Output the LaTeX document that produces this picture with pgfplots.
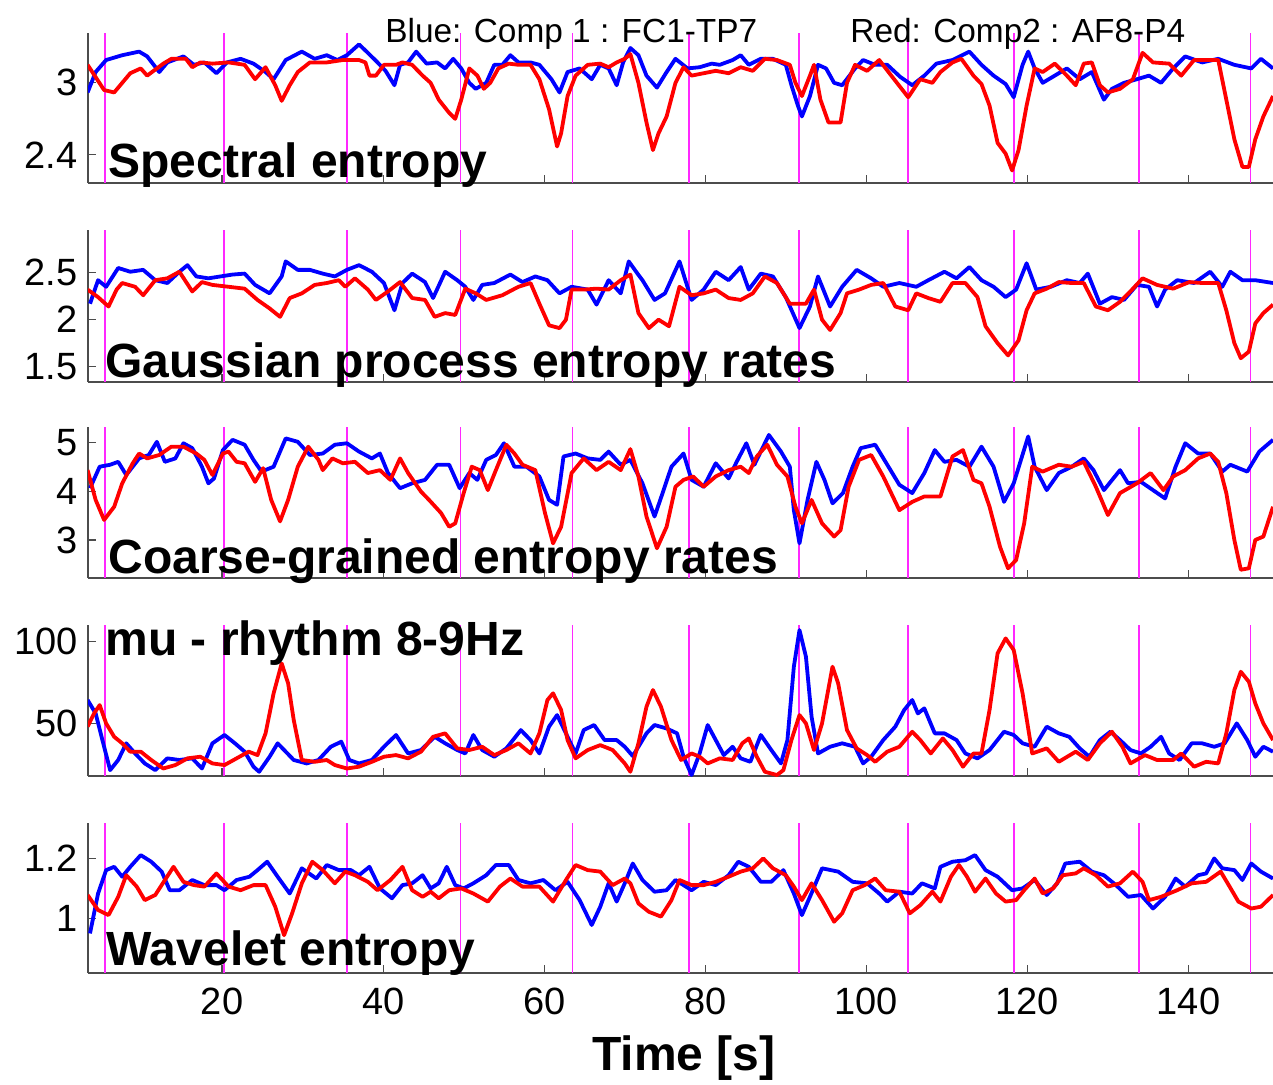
\documentclass[border=0pt]{standalone}
\usepackage{fontspec}
\setmainfont{Liberation Sans}
\usepackage{pgfplots}
\pgfplotsset{compat=1.18}
\definecolor{cblue}{RGB}{0,0,255}
\definecolor{cred}{RGB}{255,0,0}
\definecolor{cmag}{RGB}{255,40,255}
\pgfplotsset{panel/.style={
  scale only axis, width=592.5pt, xmin=3.35, xmax=150.5,
  axis x line*=bottom, axis y line*=left,
  axis line style={black!70, line width=0.8pt},
  xtick={20,40,...,140}, xticklabels={},
  tick align=inside, major tick length=4pt,
  tick style={black!70, line width=0.6pt},
  extra x ticks={5.5,20.2,35.5,49.6,63.5,78,91.6,105.2,118.3,133.9,147.7},
  extra x tick labels={},
  extra x tick style={grid=major, major tick length=0pt, tick style={draw=none},
     major grid style={draw=cmag, line width=0.85pt, opacity=1}},
  /pgf/number format/assume math mode=true,
  yticklabel style={font=\fontsize{19}{19}\selectfont, inner sep=0pt, xshift=-5pt},
  xticklabel style={font=\fontsize{19}{19}\selectfont, inner sep=0pt, yshift=-7.5pt},
  every axis plot/.append style={line width=1.9pt, line join=round, no marks},
}}
\begin{document}
\begin{tikzpicture}
\path[use as bounding box] (0,0) rectangle (636.5pt,542pt);
% Panel 1
\begin{axis}[panel, at={(44pt,450.5pt)}, anchor=south west, height=75pt,
  ymin=2.166, ymax=3.415, ytick={2.4,3}, yticklabels={2.4,3}]
\addplot[cblue] coordinates {(3.3,2.92)(4.3,3.09)(5.6,3.19)(7.6,3.23)(9.7,3.26)(10.7,3.22)(12.2,3.09)(13.2,3.17)(15.2,3.22)(16.5,3.15)(17.8,3.17)(19.3,3.08)(20.6,3.17)(22.3,3.2)(23.9,3.16)(25.4,3.09)(26.4,3.03)(27.9,3.19)(29.9,3.26)(31.5,3.2)(33,3.23)(34.3,3.19)(35.5,3.23)(37,3.32)(38.1,3.25)(39.3,3.17)(40.3,3.1)(41.4,2.98)(42.1,3.15)(43.1,3.17)(44.1,3.26)(45.4,3.16)(46.7,3.17)(47.7,3.12)(48.7,3.2)(49.7,3.12)(50.7,3.0)(51.5,2.95)(52.8,3.0)(53.8,3.15)(54.8,3.15)(55.8,3.23)(56.8,3.17)(58.3,3.17)(59.4,3.15)(60.9,3.03)(61.9,2.92)(62.9,3.09)(64.4,3.12)(65.9,3.03)(66.96,3.15)(68,3.12)(69,2.98)(69.8,3.17)(70.7,3.29)(71.7,3.23)(72.7,3.06)(74,2.96)(75.2,3.09)(76.3,3.2)(77.8,3.12)(79.3,3.13)(80.8,3.16)(81.8,3.15)(83.4,3.19)(84.4,3.23)(85.4,3.15)(86.9,3.2)(88.4,3.2)(90,3.15)(90.7,2.98)(91.5,2.81)(92,2.72)(93,2.89)(94,3.15)(95,3.12)(96,3.0)(97,2.98)(98.6,3.12)(99.6,3.19)(101.1,3.15)(102.6,3.15)(104.2,3.05)(105.7,2.98)(107.2,3.06)(108.7,3.16)(110.7,3.19)(112.8,3.26)(114.3,3.15)(115.8,3.06)(117.3,2.99)(118.3,2.88)(119.4,3.15)(120.1,3.26)(120.9,3.12)(121.9,3.0)(123.4,3.06)(124.9,3.12)(126.5,3.03)(128,3.09)(129.5,2.86)(130.5,2.95)(132,3.0)(133.6,3.03)(135.1,3.06)(136.6,3.0)(138.1,3.12)(139.6,3.22)(141.7,3.17)(143.7,3.2)(145.7,3.15)(147.8,3.12)(149,3.2)(150.5,3.12)};
\addplot[cred] coordinates {(3.3,3.15)(5.35,2.94)(6.6,2.92)(8.6,3.08)(9.9,3.12)(10.7,3.06)(12.7,3.16)(13.7,3.2)(15.5,3.2)(16.3,3.13)(17.3,3.17)(18.8,3.16)(20.8,3.17)(22.8,3.15)(24.1,3.03)(25.4,3.13)(26.6,2.98)(27.4,2.85)(28.4,2.98)(29.4,3.09)(30.9,3.17)(33,3.17)(35,3.19)(37,3.19)(37.8,3.17)(38.3,3.06)(39.1,3.06)(40.1,3.15)(41.6,3.15)(42.4,3.17)(43.6,3.15)(44.9,3.06)(45.9,3.0)(46.9,2.86)(48.2,2.75)(48.95,2.70)(49.7,2.86)(50.7,3.12)(51.7,3.06)(52.5,2.95)(53.3,3.0)(54.3,3.12)(55.6,3.16)(56.8,3.15)(58.3,3.15)(59.4,3.03)(60.6,2.78)(61.6,2.47)(62.1,2.58)(62.9,2.89)(63.9,3.06)(65.4,3.15)(66.96,3.16)(68,3.13)(69,3.17)(70,3.2)(70.7,3.24)(71.7,3.0)(72.7,2.67)(73.5,2.44)(74.2,2.58)(75.2,2.72)(76.3,3.0)(77.3,3.13)(78.3,3.06)(79.8,3.08)(81.3,3.1)(82.9,3.08)(84.4,3.13)(85.9,3.1)(87.4,3.2)(88.9,3.19)(90.5,3.15)(91.2,3.0)(92,2.89)(93,3.06)(93.5,3.15)(94.3,2.86)(95.3,2.67)(96.8,2.67)(97.6,3.0)(98.6,3.15)(100.1,3.1)(101.6,3.19)(103.1,3.06)(105.2,2.88)(106.7,3.03)(108.2,3.0)(109.2,3.09)(110.7,3.17)(111.8,3.2)(113.3,3.06)(114.3,2.99)(115.3,2.81)(116.3,2.5)(117.3,2.41)(118.1,2.27)(118.9,2.44)(119.9,2.81)(120.9,3.12)(121.9,3.09)(123.4,3.16)(124.9,3.06)(126,2.98)(127,3.16)(128,3.17)(129,2.98)(130,2.92)(131.5,2.95)(133.1,3.03)(134.3,3.25)(135.6,3.17)(137.6,3.16)(139.1,3.06)(140.7,3.19)(143.7,3.19)(144.7,2.86)(145.7,2.53)(146.7,2.3)(147.5,2.3)(148.3,2.53)(149.3,2.72)(150.5,2.89)};
\end{axis}
% Panel 2
\begin{axis}[panel, at={(44pt,351pt)}, anchor=south west, height=76pt,
  ymin=1.337, ymax=2.954, ytick={1.5,2,2.5}, yticklabels={1.5,2,2.5}]
\addplot[cblue] coordinates {(3.6,2.17)(4.6,2.42)(5.6,2.35)(7.1,2.55)(8.6,2.51)(10.2,2.53)(11.7,2.42)(13.2,2.39)(14.7,2.51)(15.7,2.58)(16.8,2.46)(18.3,2.44)(19.8,2.46)(21.3,2.48)(22.8,2.49)(24.1,2.37)(25.9,2.28)(27.4,2.46)(27.9,2.62)(29.4,2.53)(30.9,2.53)(32.5,2.49)(34,2.46)(35.5,2.53)(37,2.58)(38.6,2.51)(40.1,2.39)(41.4,2.1)(42.4,2.39)(43.6,2.49)(45.2,2.4)(46.2,2.23)(47.7,2.51)(49.2,2.42)(50.2,2.35)(51.2,2.21)(52.3,2.37)(53.8,2.39)(55.8,2.48)(57.3,2.4)(58.9,2.46)(60.4,2.42)(61.9,2.28)(63.4,2.35)(65.4,2.32)(66.5,2.16)(68,2.42)(69.5,2.28)(70.5,2.62)(71.5,2.5)(72.2,2.42)(73.7,2.21)(75,2.28)(76.8,2.62)(78.3,2.21)(79.8,2.32)(81.3,2.51)(82.9,2.42)(84.4,2.56)(85.4,2.32)(86.9,2.49)(88.4,2.46)(90,2.24)(91.7,1.91)(93,2.14)(94,2.46)(95.5,2.14)(97,2.35)(98.8,2.53)(100.6,2.44)(102.1,2.35)(104.1,2.39)(106.2,2.35)(107.7,2.42)(109.7,2.51)(111.2,2.44)(112.8,2.56)(114.3,2.42)(115.8,2.35)(117.3,2.24)(118.6,2.32)(119.9,2.6)(121.1,2.32)(122.9,2.35)(124.9,2.42)(126.5,2.39)(127.5,2.49)(129,2.17)(130.5,2.24)(132,2.21)(133.6,2.37)(135.1,2.35)(136.1,2.14)(137.1,2.32)(138.6,2.42)(140.7,2.39)(142.7,2.51)(144.2,2.35)(145.2,2.51)(146.7,2.42)(148.3,2.42)(150.5,2.39)};
\addplot[cred] coordinates {(3.3,2.32)(4.6,2.24)(5.9,2.14)(6.9,2.32)(7.6,2.39)(9.2,2.35)(10.2,2.26)(11.7,2.42)(13.2,2.44)(14.7,2.51)(16.3,2.3)(17.5,2.4)(18.8,2.37)(20.8,2.35)(22.8,2.33)(24.4,2.21)(25.9,2.12)(27.2,2.03)(28.4,2.23)(29.9,2.28)(31.5,2.37)(33,2.39)(34.5,2.42)(35.3,2.35)(36.5,2.44)(38.1,2.32)(39.1,2.21)(40.6,2.3)(42.1,2.4)(43.6,2.23)(45.2,2.21)(46.4,2.03)(47.7,2.07)(48.95,2.05)(50.2,2.33)(51.5,2.28)(52.8,2.21)(54.8,2.26)(56.8,2.35)(58.3,2.39)(59.4,2.17)(60.6,1.94)(61.9,1.91)(62.7,2.0)(63.4,2.32)(64.9,2.32)(66.5,2.33)(68,2.32)(69.5,2.42)(70.7,2.48)(71.7,2.07)(73,1.91)(74.2,2.0)(75.5,1.93)(76.8,2.35)(78.3,2.26)(79.8,2.28)(81.3,2.32)(82.9,2.23)(84.4,2.21)(85.9,2.28)(87.4,2.46)(88.9,2.39)(90.5,2.17)(92.5,2.17)(93.5,2.32)(94.5,2.0)(95.5,1.89)(96.8,2.07)(97.6,2.28)(99.1,2.32)(100.6,2.37)(102.1,2.39)(103.6,2.14)(105.2,2.1)(106.2,2.28)(107.7,2.23)(109.2,2.19)(110.7,2.39)(112.3,2.39)(113.8,2.24)(114.8,1.93)(116.3,1.75)(117.6,1.62)(118.9,1.78)(119.9,2.1)(120.9,2.28)(122.4,2.33)(123.9,2.4)(125.5,2.39)(127,2.39)(128.5,2.14)(130,2.1)(131.5,2.19)(133,2.32)(134.3,2.44)(136.1,2.37)(138.1,2.33)(140.1,2.4)(141.7,2.39)(143.7,2.39)(144.7,2.1)(145.7,1.75)(146.5,1.59)(147.5,1.66)(148.3,1.96)(149.3,2.07)(150.5,2.16)};
\end{axis}
% Panel 3
\begin{axis}[panel, at={(44pt,253pt)}, anchor=south west, height=75.5pt,
  ymin=2.221, ymax=5.313, ytick={3,4,5}, yticklabels={3,4,5}]
\addplot[cblue] coordinates {(3.6,4.06)(4.8,4.5)(6.1,4.54)(7.1,4.6)(8.1,4.33)(9.7,4.67)(10.9,4.74)(11.9,5.01)(12.9,4.6)(14.2,4.67)(15.2,4.98)(16.3,4.88)(17.5,4.5)(18.3,4.16)(19.0,4.26)(20.1,4.84)(21.3,5.05)(22.8,4.95)(23.9,4.64)(24.9,4.4)(26.4,4.5)(27.9,5.08)(29.4,5.01)(30.9,4.74)(32.5,4.77)(34,4.95)(35.5,4.98)(37,4.81)(38.6,4.67)(39.6,4.77)(40.6,4.37)(42.1,4.06)(43.6,4.16)(45.2,4.23)(46.7,4.54)(48.2,4.54)(49.5,4.06)(50.7,4.37)(51.7,4.23)(52.8,4.64)(54.0,4.74)(55.0,4.98)(56.3,4.5)(57.8,4.5)(59.4,4.3)(60.6,3.82)(61.6,3.72)(62.4,4.71)(63.9,4.77)(65.4,4.67)(66.96,4.64)(68,4.81)(69.5,4.54)(70.7,4.64)(72.2,4.16)(73.7,3.48)(74.7,3.96)(75.8,4.5)(77.3,4.77)(78.3,4.23)(79.8,4.09)(81.3,4.57)(82.9,4.26)(83.9,4.6)(85.1,4.98)(86.1,4.54)(87.9,5.15)(89.4,4.81)(90.5,4.5)(91,3.61)(91.7,2.93)(92.7,3.82)(93.8,4.6)(94.8,4.23)(95.8,3.75)(97.1,3.96)(98.3,4.5)(99.3,4.88)(101.1,4.95)(102.6,4.54)(104.1,4.13)(105.7,3.96)(107.2,4.37)(108.5,4.84)(109.7,4.6)(111.2,4.64)(112.8,4.5)(114.3,4.91)(115.8,4.5)(117.1,3.78)(118.3,4.16)(120.1,5.12)(120.9,4.5)(122.4,4.02)(123.9,4.37)(125.5,4.5)(127,4.67)(128.2,4.43)(129.5,4.02)(131.5,4.43)(132.5,4.16)(134.1,4.19)(135.6,4.02)(137.1,3.85)(138.4,4.5)(139.6,4.98)(141.2,4.77)(142.7,4.77)(144.2,4.4)(145.2,4.54)(147.3,4.4)(148.8,4.81)(150.5,5.05)};
\addplot[cred] coordinates {(3.3,4.43)(4.3,3.82)(5.35,3.41)(6.6,3.68)(7.6,4.16)(8.9,4.57)(9.7,4.77)(10.7,4.67)(12.2,4.74)(13.7,4.91)(15.2,4.91)(16.8,4.77)(17.8,4.64)(18.8,4.33)(20.1,4.77)(20.8,4.81)(21.8,4.6)(22.8,4.57)(24.1,4.19)(25.1,4.47)(26.1,3.82)(27.2,3.38)(28.2,3.82)(29.4,4.5)(30.7,4.91)(31.97,4.64)(32.5,4.43)(33.7,4.67)(35,4.57)(36.5,4.6)(38.1,4.37)(39.6,4.43)(40.9,4.23)(42.1,4.67)(43.1,4.37)(44.7,3.99)(45.7,3.82)(47.2,3.55)(48.2,3.27)(48.95,3.34)(50.0,3.96)(51,4.5)(52,4.43)(53,4.02)(54,4.43)(55.3,4.95)(56.3,4.77)(57.3,4.54)(58.9,4.43)(60.1,3.55)(61.1,2.93)(62.1,3.27)(63.4,4.37)(64.9,4.67)(66.5,4.43)(68,4.6)(69.5,4.43)(70.7,4.86)(71.7,4.3)(72.7,3.48)(74,2.83)(75.2,3.27)(76.3,4.09)(77.3,4.23)(78.5,4.3)(79.8,4.09)(81.3,4.3)(82.9,4.43)(84.4,4.5)(85.4,4.37)(86.4,4.71)(87.7,4.95)(88.9,4.54)(90.2,4.3)(91.2,3.68)(92,3.34)(93.2,3.82)(94.5,3.34)(96,3.07)(96.8,3.2)(97.8,4.09)(99.1,4.64)(100.6,4.74)(102.1,4.3)(104.1,3.61)(105.7,3.78)(107.2,3.89)(109.2,3.89)(110.7,4.71)(112,4.84)(113.3,4.23)(114.3,4.16)(115.3,3.68)(116.6,2.86)(117.6,2.42)(118.6,2.59)(119.6,3.34)(120.6,4.5)(121.9,4.4)(123.9,4.54)(125.5,4.5)(127,4.6)(128.5,4.09)(130,3.51)(131.5,3.96)(133.6,4.16)(135.3,4.37)(136.9,4.02)(138.1,4.3)(139.6,4.43)(141.2,4.67)(142.7,4.77)(143.7,4.6)(144.7,3.96)(145.7,3.0)(146.5,2.39)(147.5,2.42)(148.3,3.0)(149.3,3.07)(150.5,3.68)};
\end{axis}
% Panel 4
\begin{axis}[panel, at={(44pt,154pt)}, anchor=south west, height=75.5pt,
  ymin=17.8, ymax=110.2, ytick={50,100}, yticklabels={50,100}]
\addplot[cblue] coordinates {(3.3,64.3)(4.3,56.1)(5.35,35.7)(6.1,21.4)(7.1,27.6)(8.1,37.8)(9.2,31.6)(10.4,25.5)(11.7,21.4)(13.2,28.6)(14.7,27.6)(16.3,28.6)(17.5,22.4)(18.8,37.8)(20.3,42.9)(21.6,37.8)(22.8,32.7)(23.9,23.5)(24.6,20.4)(25.9,29.6)(26.9,37.8)(27.9,32.7)(28.9,27.6)(30.5,25.5)(31.97,27.6)(33.5,35.7)(34.8,38.8)(35.8,27.6)(37,25.5)(38.6,27.6)(40.1,35.7)(41.6,42.9)(43.1,31.6)(44.7,33.7)(46.4,41.8)(47.7,37.8)(49.2,33.7)(50.2,31.6)(51.2,42.9)(52.3,33.7)(53.8,29.6)(55.3,34.7)(57.1,45.9)(58.3,39.8)(59.4,31.6)(60.6,48.0)(61.6,55.1)(62.7,43.9)(63.9,31.6)(64.9,45.9)(66.2,49.0)(67.5,39.8)(69,39.8)(70,35.7)(71,30)(71.7,35.7)(72.7,43.9)(73.7,49)(75.2,46.9)(76.5,43.9)(77.3,29.6)(78.3,18.4)(79.3,31.6)(80.3,49)(81.3,39.8)(82.3,30.6)(83.4,35.7)(84.4,28.6)(85.6,26.5)(86.9,42.9)(88.2,33.7)(89.4,25.5)(90.2,39.8)(91,84.7)(91.7,107.1)(92.5,90.8)(93.2,54.1)(94,31.6)(95.5,35.7)(97,37.8)(98.6,35.7)(99.6,25.5)(100.6,29.6)(102.1,39.8)(103.6,48.0)(104.7,58.2)(105.7,64.3)(106.4,56.1)(107.2,59.2)(108.5,43.9)(109.7,43.9)(111.2,39.8)(112.3,31.6)(113.8,28.6)(115.3,33.7)(117.1,44.9)(118.3,42.9)(119.4,37.8)(120.9,35.7)(122.4,48.0)(123.9,43.9)(125.2,41.8)(126.5,34.7)(127.7,29.6)(129,39.8)(130.3,44.9)(131.5,39.8)(132.8,33.7)(134.1,31.6)(135.3,35.7)(136.6,41.8)(137.6,31.6)(138.9,27.6)(140.4,37.8)(141.7,37.8)(143.2,35.7)(144.5,37.8)(146,50.0)(147.3,39.8)(148.3,29.6)(149.3,35.7)(150.5,32.7)};
\addplot[cred] coordinates {(3.3,48)(4.1,56.1)(4.8,61.2)(5.6,50)(6.6,41.8)(7.6,37.8)(8.6,32.7)(9.9,32.7)(11.2,27.6)(12.7,22.4)(14.2,24.5)(15.7,28.6)(17.3,29.6)(18.8,25.5)(20.3,24.5)(21.8,28.6)(23.3,32.7)(24.4,30.6)(25.4,43.9)(26.4,68.4)(27.4,86.7)(28.2,74.5)(28.9,52)(29.9,27.6)(31.5,26.5)(33,27.6)(34,24.5)(35.5,22.4)(37,23.5)(38.6,26.5)(40.1,29.6)(41.6,30.6)(43.1,28.6)(44.7,32.7)(46.2,41.8)(47.7,43.9)(49.2,34.7)(50.7,33.7)(52.3,35.7)(53.8,30.6)(55.3,33.7)(56.8,37.8)(58.3,31.6)(59.4,43.9)(60.4,64.3)(61.1,68.4)(62.1,58.2)(62.9,39.8)(63.9,28.6)(65.4,33.7)(66.96,36.7)(68.5,33.7)(70,25.5)(70.7,20.4)(71.7,37.8)(72.7,60.2)(73.5,70.4)(74.5,60.2)(75.8,39.8)(77,27.6)(78.3,31.6)(79.3,29.6)(80.3,25.5)(81.8,28.6)(83.4,27.6)(84.6,37.8)(85.4,40.8)(86.4,29.6)(87.4,20.4)(88.9,18.4)(89.7,21.4)(90.7,39.8)(91.7,55.1)(92.5,50)(93.5,33.7)(94.5,50)(95.8,84.7)(96.5,74.5)(97.6,45.9)(98.8,34.7)(100.1,30.6)(101.1,26.5)(102.6,32.7)(104.1,35.7)(105.7,44.9)(106.7,39.8)(108,31.6)(109.5,40.8)(110.7,33.7)(112,23.5)(113.3,31.6)(114.3,31.6)(115.3,58.2)(116.3,92.9)(117.3,102)(118.3,94.9)(119.4,68.4)(120.6,31.6)(122.4,34.7)(123.9,26.5)(126,32.7)(127.5,27.6)(129,37.8)(130.5,44.9)(131.8,35.7)(132.8,25.5)(134.6,30.6)(136.1,27.6)(138.1,27.6)(139.1,31.6)(140.7,23.5)(142.2,26.5)(143.7,25.5)(144.7,43.9)(145.7,70.4)(146.5,81.6)(147.5,75.5)(148.3,62.2)(149.3,50)(150.5,39.8)};
\end{axis}
% Panel 5
\begin{axis}[panel, at={(44pt,55.5pt)}, anchor=south west, height=75pt,
  ymin=0.818, ymax=1.318, ytick={1,1.2}, yticklabels={1,1.2},
  xticklabels={20,40,60,80,100,120,140}]
\addplot[cblue] coordinates {(3.6,0.95)(4.6,1.083)(5.6,1.161)(6.6,1.172)(7.6,1.139)(8.6,1.172)(9.9,1.211)(11.2,1.189)(12.5,1.156)(13.5,1.094)(14.7,1.094)(16.3,1.128)(17.8,1.111)(19.3,1.111)(20.3,1.094)(21.8,1.128)(23.4,1.139)(24.4,1.161)(25.6,1.189)(26.9,1.139)(28.4,1.083)(29.9,1.167)(31.7,1.133)(33,1.178)(34.5,1.161)(36,1.161)(37,1.144)(38.3,1.172)(39.6,1.1)(41.1,1.067)(42.4,1.111)(43.6,1.117)(44.9,1.144)(45.9,1.1)(46.9,1.117)(47.9,1.172)(48.95,1.111)(50,1.1)(51.2,1.117)(52.8,1.144)(54,1.178)(55.6,1.178)(56.8,1.128)(58.3,1.117)(59.9,1.128)(61.4,1.094)(62.9,1.122)(64.4,1.061)(65.9,0.978)(66.96,1.039)(68,1.117)(69,1.056)(70,1.117)(71,1.183)(72.2,1.128)(73.7,1.089)(75.2,1.094)(76.3,1.128)(78.3,1.094)(79.8,1.122)(81.3,1.111)(82.9,1.144)(84.1,1.189)(85.4,1.172)(86.9,1.122)(88.2,1.122)(89.7,1.161)(91,1.083)(92,1.011)(93,1.072)(94.5,1.167)(96.5,1.156)(98.3,1.122)(100.1,1.117)(101.6,1.083)(102.6,1.056)(104.1,1.089)(105.7,1.083)(106.9,1.117)(108.5,1.1)(109.2,1.172)(110.7,1.189)(112.3,1.194)(113.5,1.211)(114.8,1.161)(116.3,1.139)(118.1,1.094)(119.4,1.1)(120.9,1.128)(122.4,1.078)(123.7,1.117)(124.7,1.183)(126.5,1.189)(128,1.156)(129.5,1.144)(131,1.111)(132.5,1.072)(134.1,1.078)(135.6,1.033)(137.1,1.072)(138.4,1.133)(139.6,1.106)(141.2,1.144)(142.2,1.15)(143.2,1.2)(144.2,1.167)(145.7,1.161)(146.7,1.128)(147.8,1.183)(149,1.156)(150.5,1.133)};
\addplot[cred] coordinates {(3.3,1.078)(4.6,1.028)(5.9,1.011)(7.1,1.072)(8.1,1.144)(9.4,1.106)(10.4,1.061)(11.7,1.078)(12.9,1.128)(13.97,1.172)(15.2,1.122)(16.5,1.111)(17.8,1.106)(19.3,1.15)(20.8,1.106)(22.3,1.094)(23.9,1.111)(25.4,1.111)(26.6,1.039)(27.7,0.944)(28.7,1.017)(29.9,1.117)(31.2,1.189)(32.5,1.161)(34,1.117)(35.3,1.156)(36.5,1.144)(38.1,1.122)(39.3,1.094)(40.9,1.128)(42.4,1.172)(43.6,1.094)(44.9,1.072)(45.9,1.089)(46.9,1.067)(48.2,1.094)(49.7,1.1)(51.2,1.083)(53,1.056)(54.5,1.106)(55.8,1.133)(57.3,1.106)(59.4,1.106)(61.1,1.056)(62.7,1.128)(63.9,1.178)(65.4,1.161)(66.96,1.156)(68.5,1.111)(70,1.133)(70.7,1.117)(71.7,1.05)(73,1.022)(74.5,1.006)(75.8,1.061)(76.8,1.128)(78.3,1.111)(79.8,1.111)(81.3,1.122)(82.9,1.139)(84.4,1.156)(85.9,1.167)(87.2,1.2)(88.4,1.167)(90,1.144)(91,1.106)(92,1.061)(93.2,1.117)(94.5,1.061)(96,0.989)(97,1.017)(98.3,1.094)(99.8,1.111)(101.1,1.133)(102.4,1.094)(104.1,1.089)(105.4,1.017)(106.7,1.044)(108.2,1.089)(109.2,1.056)(110.5,1.139)(111.5,1.178)(112.5,1.139)(113.5,1.089)(114.8,1.133)(116.1,1.083)(117.3,1.056)(118.6,1.061)(119.6,1.094)(120.9,1.133)(121.9,1.083)(123.2,1.1)(124.4,1.144)(126,1.15)(127,1.167)(128.5,1.144)(130,1.106)(131.5,1.117)(133.1,1.156)(134.3,1.122)(135.1,1.061)(136.6,1.072)(138.6,1.094)(140.4,1.117)(142.2,1.122)(144,1.156)(145,1.111)(146.2,1.056)(147.8,1.033)(149,1.039)(150.5,1.078)};
\end{axis}
% Texts
\begin{scope}[every node/.style={inner sep=0pt}]
\node[anchor=base west, font=\fontsize{16.7}{20}\selectfont] at (192.5pt,520.5pt) {Blue: Comp 1 : FC1-TP7};
\node[anchor=base west, font=\fontsize{16.7}{20}\selectfont] at (425pt,520.5pt) {Red: Comp2 : AF8-P4};
\node[anchor=base west, font=\fontsize{24}{28}\selectfont\bfseries] at (54pt,453pt) {Spectral entropy};
\node[anchor=base west, font=\fontsize{24}{28}\selectfont\bfseries] at (52.5pt,353.5pt) {Gaussian process entropy rates};
\node[anchor=base west, font=\fontsize{24}{28}\selectfont\bfseries] at (54pt,255.5pt) {Coarse-grained entropy rates};
\node[anchor=base west, font=\fontsize{24}{28}\selectfont\bfseries] at (52.5pt,214.5pt) {mu - rhythm 8-9Hz};
\node[anchor=base west, font=\fontsize{24}{28}\selectfont\bfseries] at (53pt,59.5pt) {Wavelet entropy};
\node[anchor=base, font=\fontsize{24}{28}\selectfont\bfseries] at (342pt,7pt) {Time [s]};
\end{scope}
\end{tikzpicture}
\end{document}
